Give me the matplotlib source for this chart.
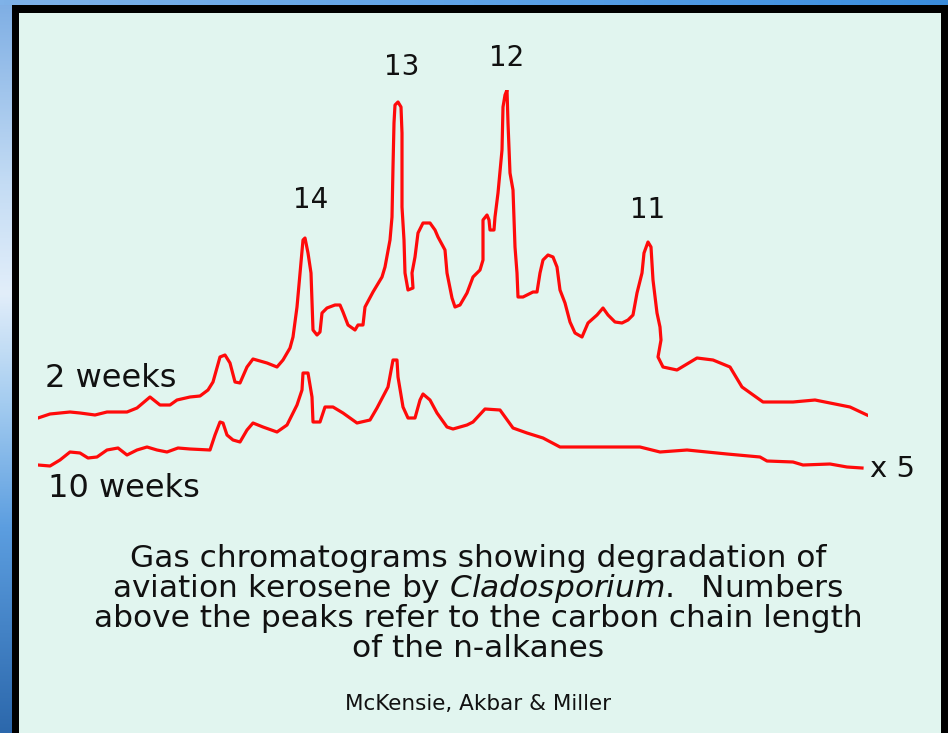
import numpy as np
import matplotlib.pyplot as plt
from matplotlib.patches import Rectangle
from matplotlib.colors import LinearSegmentedColormap

plt.rcParams["font.family"] = ["DejaVu Sans"]

# Cromatograma - 2 semanas (tempo de retencao em scans, sinal do detector)
rt_2wk = [0, 12, 32, 42, 57, 69, 89, 99, 112, 122, 132, 139, 152, 162, 170, 175,
          182, 187, 192, 197, 202, 209, 215, 229, 239, 245, 252, 255, 259, 262,
          265, 267, 270, 273, 275, 279, 282, 284, 289, 297, 302, 305, 310, 317,
          320, 325, 327, 335, 344, 347, 352, 354, 355, 356, 357, 360, 363, 364,
          364, 366, 367, 370, 375, 374, 377, 380, 385, 392, 397, 400, 407, 409,
          414, 417, 422, 429, 435, 442, 445, 445, 449, 451, 452, 456, 457, 460,
          464, 465, 467, 469, 470, 472, 475, 477, 479, 480, 485, 495, 499, 502,
          505, 510, 515, 519, 522, 527, 532, 537, 544, 550, 559, 565, 570, 577,
          584, 590, 595, 599, 604, 606, 610, 613, 615, 619, 622, 623, 620, 625,
          639, 659, 675, 692, 704, 725, 755, 777, 812, 829]
sig_2wk = [57, 61, 63, 62, 60, 63, 63, 67, 78, 70, 70, 75, 78, 79, 85, 93,
           118, 120, 112, 93, 92, 108, 116, 112, 108, 115, 127, 138, 168, 202,
           235, 237, 222, 202, 145, 140, 143, 162, 167, 170, 170, 163, 150, 145,
           150, 150, 168, 183, 198, 208, 235, 258, 308, 352, 370, 373, 368, 342,
           268, 235, 202, 185, 187, 202, 218, 242, 252, 252, 245, 238, 225, 202,
           177, 168, 170, 182, 198, 205, 215, 255, 260, 255, 245, 245, 258, 282,
           325, 368, 380, 385, 352, 302, 285, 228, 202, 178, 178, 183, 183, 202,
           215, 220, 218, 208, 185, 172, 153, 142, 138, 152, 160, 167, 160, 153,
           152, 155, 160, 182, 202, 222, 233, 228, 195, 162, 148, 135, 118, 108,
           105, 117, 115, 108, 88, 73, 73, 75, 68, 60]

# Cromatograma - 10 semanas (sinal x 5)
rt_10wk = [0, 12, 22, 32, 42, 50, 59, 69, 80, 89, 99, 109, 119, 129, 140, 152,
           172, 177, 182, 185, 189, 195, 202, 209, 215, 225, 239, 249, 259, 264,
           265, 270, 274, 275, 282, 287, 295, 305, 319, 332, 339, 350, 355, 359,
           360, 365, 370, 377, 382, 385, 392, 399, 409, 415, 429, 435, 447, 462,
           475, 489, 505, 522, 555, 602, 622, 649, 689, 722, 729, 755, 765, 792,
           809, 824]
sig_10wk = [10, 9, 15, 23, 22, 17, 18, 25, 27, 20, 25, 28, 25, 23, 27, 26,
            25, 40, 53, 52, 40, 35, 33, 45, 52, 48, 43, 50, 70, 85,
            102, 102, 78, 53, 53, 68, 68, 62, 52, 55, 67, 88, 115, 115,
            98, 68, 57, 57, 75, 81, 75, 62, 48, 46, 50, 53, 66, 65,
            47, 42, 37, 28, 28, 28, 23, 25, 21, 18, 14, 13, 10, 11,
            8, 7]

# Numero de carbonos dos picos principais
peak_labels = ["14", "13", "12", "11"]

caption = [
    "Gas chromatograms showing degradation of",
    r"aviation kerosene by $\mathit{Cladosporium.}$  Numbers",
    "above the peaks refer to the carbon chain length",
    "of the n-alkanes",
]
credit = "McKensie, Akbar & Miller"

W, H = 948, 733
fig = plt.figure(figsize=(W / 100, H / 100), dpi=100)

# Fundo do slide (pixels)
bg = fig.add_axes([0, 0, 1, 1])
left_cmap = LinearSegmentedColormap.from_list(
    "left", [(0, "#7eaee4"), (0.25, "#c4dcf4"), (0.4, "#e2eefa"),
             (0.55, "#a4ccf0"), (0.72, "#5c9ee0"), (1, "#2c68ac")])
top_cmap = LinearSegmentedColormap.from_list(
    "top", [(0, "#7fb2e8"), (0.5, "#5ea2e6"), (1, "#3a8cdc")])
bg.imshow(np.linspace(0, 1, 256).reshape(-1, 1), cmap=left_cmap,
          extent=(0, 12, H, 0), aspect="auto")
bg.imshow(np.linspace(0, 1, 256).reshape(1, -1), cmap=top_cmap,
          extent=(0, W, 5, 0), aspect="auto")
bg.add_patch(Rectangle((12, 5), W - 12, H - 5, facecolor="black"))
bg.add_patch(Rectangle((19, 13), 922, H - 13, facecolor="#e1f5ef"))
bg.set_xlim(0, W)
bg.set_ylim(H, 0)
bg.axis("off")

# Area dos cromatogramas
ax = fig.add_axes([38 / W, (H - 475) / H, 830 / W, 385 / H])
ax.plot(rt_2wk, sig_2wk, color="#ff0a0a", lw=2.3, solid_joinstyle="round")
ax.plot(rt_10wk, sig_10wk, color="#ff0a0a", lw=2.3, solid_joinstyle="round")
ax.set_xlim(0, 830)
ax.set_ylim(0, 385)
ax.axis("off")
ax.patch.set_alpha(0)

# Rotulos
txt = dict(color="#111111")
for lab, x, y in zip(peak_labels, [311, 402, 507, 648], [208, 75, 66, 218]):
    bg.text(x, y, lab, fontsize=20, ha="center", va="baseline", **txt)
bg.text(45, 387, "2 weeks", fontsize=23, ha="left", va="baseline", **txt)
bg.text(48, 497, "10 weeks", fontsize=23, ha="left", va="baseline", **txt)
bg.text(870, 477, "x 5", fontsize=21, ha="left", va="baseline", **txt)

for i, line in enumerate(caption):
    bg.text(478, 567 + 30 * i, line, fontsize=22.5, ha="center", va="baseline", **txt)
bg.text(478, 710, credit, fontsize=15.5, ha="center", va="baseline", **txt)

fig.savefig("out.png", dpi=100)
